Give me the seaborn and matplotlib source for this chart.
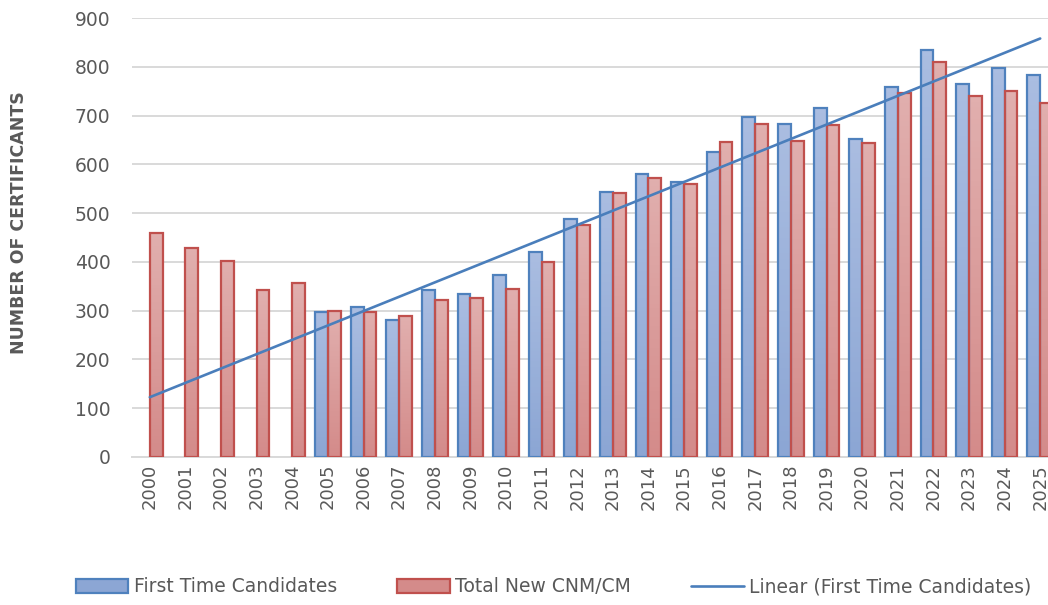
import matplotlib.pyplot as plt
import matplotlib.colors as mcolors
from matplotlib.lines import Line2D
from matplotlib.patches import Patch
import seaborn as sns
import numpy as np
import pandas as pd

# chart data
years = [str(y) for y in range(2000, 2026)]
first_time = [np.nan, np.nan, np.nan, np.nan, np.nan,
              297, 307, 281, 342, 334, 373, 420, 488, 544, 580, 563,
              625, 698, 683, 715, 652, 759, 834, 764, 798, 783]
total_new = [460, 428, 402, 342, 357,
             300, 297, 289, 321, 326, 344, 399, 475, 541, 573, 560,
             646, 683, 648, 681, 644, 747, 809, 740, 751, 725]
series_names = ['First Time Candidates', 'Total New CNM/CM']
trend_label = 'Linear (First Time Candidates)'
y_ticks = list(range(0, 901, 100))

sns.set_theme(style="white")
plt.rcParams['font.family'] = ['DejaVu Sans']

gray_text = '#595959'
grid_col = '#D9D9D9'
edge_cols = ['#4F81BD', '#C0504D']
grad_cols = [('#AABDE1', '#8CA6D4'), ('#E1AFAE', '#D48B8A')]

df = pd.DataFrame({
    'year': years * 2,
    'value': first_time + total_new,
    'series': [series_names[0]] * len(years) + [series_names[1]] * len(years),
})

fig = plt.figure(figsize=(10.48, 6.05), dpi=100)
ax = fig.add_axes([132 / 1048, 1 - 457 / 605, (1058 - 132) / 1048, (457 - 18) / 605])

sns.barplot(data=df, x='year', y='value', hue='series', hue_order=series_names,
            palette=[c[1] for c in grad_cols], width=0.72, gap=0, ax=ax,
            legend=False, zorder=3)

# gradient fill + outline for each bar
for container, edge, (top, bottom) in zip(ax.containers, edge_cols, grad_cols):
    cmap = mcolors.LinearSegmentedColormap.from_list('g', [bottom, top])
    for bar in container:
        h = bar.get_height()
        if not np.isfinite(h) or h <= 0:
            continue
        bar.set_facecolor('none')
        bar.set_edgecolor(edge)
        bar.set_linewidth(1.6)
        x0 = bar.get_x()
        w = bar.get_width()
        grad = np.linspace(0, 1, 64).reshape(-1, 1)
        im = ax.imshow(grad, cmap=cmap, origin='lower', aspect='auto',
                       extent=[x0, x0 + w, 0, h], zorder=2.5)
        im.set_clip_path(bar)

# linear trendline fitted on first time candidates
xs = np.arange(len(years))
ft = np.array(first_time, dtype=float)
mask = np.isfinite(ft)
slope, intercept = np.polyfit(xs[mask], ft[mask], 1)
ax.plot(xs, slope * xs + intercept, color='#4A7EBB', lw=1.9, zorder=4)

ax.set_xlim(-0.5, len(years) - 0.5)
ax.set_ylim(0, 900)
ax.set_yticks(y_ticks)
ax.yaxis.grid(True, color=grid_col, lw=1.4, zorder=0)
ax.set_axisbelow(True)
for s in ['top', 'right', 'left']:
    ax.spines[s].set_visible(False)
ax.spines['bottom'].set_color(grid_col)
ax.spines['bottom'].set_linewidth(1.4)
ax.tick_params(axis='y', length=0, pad=15.5, labelsize=13.5, labelcolor=gray_text)
ax.tick_params(axis='x', length=0, pad=5, labelsize=13, labelcolor=gray_text,
               labelrotation=90)
ax.set_xlabel('')
ax.set_ylabel('NUMBER OF CERTIFICANTS', fontsize=12.5, fontweight='bold',
              color=gray_text)
ax.yaxis.set_label_coords(-0.112, 0.535)

handles = [
    Patch(facecolor=grad_cols[0][1], edgecolor=edge_cols[0], lw=1.6),
    Patch(facecolor=grad_cols[1][1], edgecolor=edge_cols[1], lw=1.6),
    Line2D([0], [0], color='#4A7EBB', lw=1.9),
]
fig.legend(handles, series_names + [trend_label], loc='center left',
           bbox_to_anchor=(59 / 1048, 1 - 587 / 605), ncol=3, frameon=False,
           fontsize=13.5, labelcolor=gray_text, handlelength=2.8,
           handleheight=0.8, handletextpad=0.3, columnspacing=3.2)

fig.savefig('out.png', dpi=100)
